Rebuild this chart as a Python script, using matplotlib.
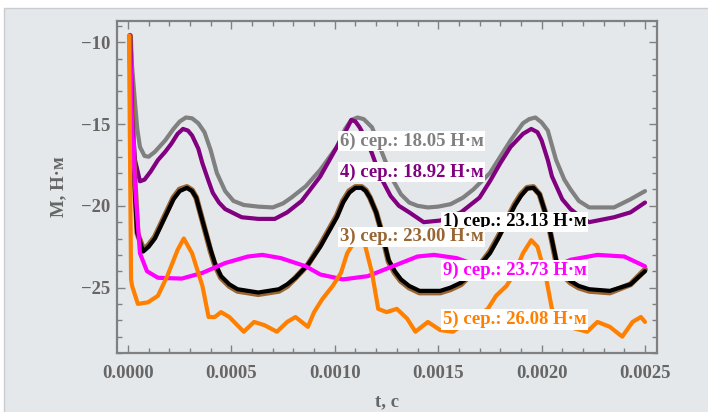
import matplotlib.pyplot as plt
from matplotlib.patches import Rectangle
from matplotlib.ticker import MultipleLocator, FuncFormatter

# --- data (t in s, M in N*m) ---
t_gray = [0.00001, 0.00002, 0.000034, 0.000045, 0.000058, 0.00008, 0.0001, 0.00013, 0.00018,
          0.00022, 0.00025, 0.00028, 0.00031, 0.00034, 0.00037, 0.0004, 0.00043, 0.00047,
          0.00051, 0.00056, 0.00063, 0.0007, 0.00075, 0.00079, 0.00086, 0.00093, 0.00101,
          0.00105, 0.00108, 0.00111, 0.00114, 0.00118, 0.00123, 0.00128, 0.00132, 0.00136,
          0.0014, 0.00145, 0.0015, 0.00156, 0.00162, 0.00167, 0.00175, 0.0018, 0.00185,
          0.00191, 0.00194, 0.00197, 0.002, 0.00203, 0.00207, 0.00211, 0.00214, 0.00218,
          0.00223, 0.00235, 0.00243, 0.0025]
m_gray = [-9.6, -11.5, -13.7, -15.3, -16.4, -16.95, -17.0, -16.7, -16.0,
          -15.3, -14.85, -14.6, -14.65, -14.95, -15.5, -16.6, -18.0, -19.1,
          -19.7, -19.95, -20.05, -20.1, -19.85, -19.5, -18.8, -17.8, -16.4,
          -15.3, -14.75, -14.6, -14.7, -15.2, -16.8, -18.4, -19.3, -19.8,
          -20.0, -20.1, -20.05, -19.9, -19.5, -19.0, -18.0, -17.0, -16.0,
          -14.95, -14.7, -14.6, -14.9, -15.4, -17.2, -18.4, -19.0, -19.7,
          -20.1, -20.1, -19.6, -19.1]

t_purple = [0.00001, 0.00002, 0.000034, 0.000058, 0.00008, 0.00011, 0.000145, 0.00018, 0.00021,
            0.00024, 0.000266, 0.00029, 0.00031, 0.00034, 0.00036, 0.00039, 0.00041, 0.00044,
            0.00047, 0.00055, 0.00063, 0.00071, 0.00077, 0.00084, 0.00093, 0.00101, 0.00105,
            0.00108, 0.0011, 0.00112, 0.00115, 0.00118, 0.00122, 0.00127, 0.00131, 0.00136,
            0.00143, 0.00151, 0.00161, 0.0017, 0.00175, 0.0018, 0.00185, 0.00191, 0.00195,
            0.00198, 0.002, 0.00203, 0.00205, 0.0021, 0.00214, 0.00219, 0.00223, 0.00235,
            0.00243, 0.0025]
m_purple = [-9.6, -14.5, -17.2, -18.5, -18.4, -17.9, -17.2, -16.7, -16.2,
            -15.6, -15.3, -15.4, -15.7, -16.5, -17.4, -18.5, -19.2, -19.8,
            -20.2, -20.7, -20.8, -20.8, -20.4, -19.7, -18.2, -16.4, -15.5,
            -14.75, -14.85, -15.2, -15.9, -16.8, -18.2, -19.4, -20.0, -20.4,
            -21.0, -20.9, -20.4, -19.5, -18.5, -17.4, -16.4, -15.6, -15.3,
            -15.5, -16.0, -17.2, -18.2, -19.6, -20.2, -20.7, -21.0, -20.7,
            -20.4, -19.8]

t_black = [0.00001, 0.000024, 0.000044, 0.000073, 0.0001, 0.00013, 0.00016, 0.00019, 0.00022,
           0.00025, 0.000285, 0.00031, 0.00033, 0.00036, 0.0004, 0.00042, 0.00045, 0.00049,
           0.00053, 0.00063, 0.00073, 0.00077, 0.00081, 0.00087, 0.00093, 0.00097, 0.00101,
           0.00104, 0.00107, 0.0011, 0.00113, 0.00115, 0.00117, 0.0012, 0.00122, 0.00126,
           0.00129, 0.00132, 0.00136, 0.00141, 0.00151, 0.00156, 0.00161, 0.00165, 0.00169,
           0.00175, 0.00179, 0.00183, 0.00187, 0.0019, 0.00193, 0.00196, 0.00199, 0.00203,
           0.00207, 0.0021, 0.00214, 0.00218, 0.00223, 0.00233, 0.00243, 0.0025]
m_black = [-9.6, -16.8, -21.6, -22.8, -22.5, -22.0, -21.2, -20.4, -19.6,
           -19.1, -18.9, -19.1, -19.5, -20.9, -22.7, -23.5, -24.3, -24.8,
           -25.1, -25.3, -25.1, -24.8, -24.4, -23.6, -22.5, -21.6, -20.7,
           -19.8, -19.2, -18.9, -18.9, -19.1, -19.5, -20.4, -21.3, -23.3,
           -24.0, -24.5, -24.9, -25.2, -25.2, -25.0, -24.7, -24.3, -23.8,
           -22.9, -22.0, -21.0, -20.0, -19.4, -18.95, -18.9, -19.3, -20.9,
           -23.3, -24.1, -24.6, -24.9, -25.1, -25.2, -24.8, -24.0]

t_brown = [0.00001, 0.000026, 0.000046, 0.000075, 0.0001, 0.00013, 0.00016, 0.00019, 0.00022,
           0.00025, 0.000285, 0.00031, 0.00033, 0.00036, 0.0004, 0.00042, 0.00045, 0.00049,
           0.00053, 0.00063, 0.00073, 0.00077, 0.00081, 0.00087, 0.00093, 0.00097, 0.00101,
           0.00104, 0.00107, 0.0011, 0.00113, 0.00115, 0.00117, 0.0012, 0.00122, 0.00126,
           0.00129, 0.00132, 0.00136, 0.00141, 0.00151, 0.00156, 0.00161, 0.00165, 0.00169,
           0.00175, 0.00179, 0.00183, 0.00187, 0.0019, 0.00193, 0.00196, 0.00199, 0.00203,
           0.00207, 0.0021, 0.00214, 0.00218, 0.00223, 0.00233, 0.00243, 0.0025]
m_brown = [-9.6, -16.9, -21.7, -22.7, -22.4, -21.9, -21.1, -20.3, -19.5,
           -19.0, -18.85, -19.05, -19.5, -20.9, -22.8, -23.6, -24.4, -24.9,
           -25.2, -25.4, -25.2, -24.9, -24.4, -23.6, -22.4, -21.5, -20.6,
           -19.7, -19.1, -18.85, -18.85, -19.05, -19.5, -20.4, -21.3, -23.4,
           -24.1, -24.6, -25.0, -25.3, -25.3, -25.1, -24.8, -24.3, -23.8,
           -22.8, -21.9, -20.9, -19.9, -19.3, -18.9, -18.85, -19.3, -20.9,
           -23.4, -24.2, -24.7, -25.0, -25.2, -25.3, -24.8, -23.9]

t_magenta = [0.00001, 0.00002, 0.000034, 0.000058, 0.000092, 0.000145, 0.00026, 0.00036,
             0.00047, 0.00058, 0.00065, 0.00074, 0.00086, 0.00093, 0.00104, 0.00116, 0.00128,
             0.0014, 0.00148, 0.00159, 0.0017, 0.0018, 0.0019, 0.002, 0.00214, 0.00227,
             0.0024, 0.0025]
m_magenta = [-9.6, -15.0, -18.8, -22.9, -24.0, -24.4, -24.45, -24.1,
             -23.5, -23.1, -23.0, -23.2, -23.7, -24.2, -24.5, -24.3, -23.7,
             -23.1, -23.0, -23.2, -23.7, -24.2, -24.4, -24.1, -23.3, -23.0,
             -23.1, -23.7]

t_orange = [0.000005, 0.000015, 0.00002, 0.000048, 0.000097, 0.000145, 0.00019, 0.00024,
            0.00027, 0.00031, 0.00036, 0.00039, 0.00042, 0.00045, 0.00049, 0.00056, 0.00061,
            0.00066, 0.00072, 0.00077, 0.00081, 0.00087, 0.0009, 0.00094, 0.00099, 0.00103,
            0.00106, 0.0011, 0.00114, 0.00118, 0.00121, 0.00125, 0.0013, 0.00135, 0.00139,
            0.00145, 0.00151, 0.00157, 0.00163, 0.00168, 0.00174, 0.00178, 0.00183, 0.00187,
            0.00191, 0.00195, 0.00198, 0.00202, 0.00205, 0.0021, 0.00216, 0.00222, 0.00227,
            0.00233, 0.00239, 0.00244, 0.00248, 0.0025]
m_orange = [-9.6, -24.5, -24.9, -26.0, -25.9, -25.5, -24.3, -22.7,
            -22.0, -22.9, -24.9, -26.8, -26.8, -26.5, -26.8, -27.7, -27.1,
            -27.3, -27.7, -27.1, -26.8, -27.4, -26.5, -25.7, -24.9, -24.1,
            -22.9, -22.1, -22.1, -24.1, -26.3, -26.5, -26.3, -26.9, -27.7,
            -27.1, -27.6, -27.7, -27.2, -26.8, -26.3, -25.5, -24.9, -24.1,
            -22.9, -22.1, -22.5, -24.3, -26.3, -27.2, -27.5, -27.7, -27.1,
            -27.4, -28.0, -27.1, -26.8, -27.1]

labels = ['6) сер.: 18.05 Н·м', '4) сер.: 18.92 Н·м', '1) сер.: 23.13 Н·м',
          '3) сер.: 23.00 Н·м', '9) сер.: 23.73 Н·м', '5) сер.: 26.08 Н·м']

c_gray = '#808080'
c_purple = '#800080'
c_black = '#000000'
c_brown = '#996633'
c_magenta = '#ff00ff'
c_orange = '#ff8000'
bg = '#e5e8eb'
tick_col = '#666666'
serif = ['Liberation Serif', 'DejaVu Serif']

fig = plt.figure(figsize=(7.08, 4.12), dpi=100, facecolor='white')
fig.patches.append(Rectangle((4 / 708, -0.01), 1.0, 1 - 8 / 412 + 0.01,
                             transform=fig.transFigure, facecolor=bg,
                             edgecolor='#c9ccd0', linewidth=1.0, zorder=-5))

ax = fig.add_axes([117 / 708, 59 / 412, 540 / 708, 332 / 412])
ax.set_facecolor(bg)
ax.set_zorder(2)

lw = 3.0
kw = dict(solid_joinstyle='round', solid_capstyle='round')
ax.plot(t_gray, m_gray, color=c_gray, lw=lw, **kw)
ax.plot(t_purple, m_purple, color=c_purple, lw=lw, **kw)
ax.plot(t_brown, m_brown, color=c_brown, lw=lw + 1.2, **kw)
ax.plot(t_black, m_black, color=c_black, lw=lw, **kw)
ax.plot(t_magenta, m_magenta, color=c_magenta, lw=lw, **kw)
ax.plot(t_orange, m_orange, color=c_orange, lw=lw, **kw)

ax.set_xlim(-0.000053, 0.002558)
ax.set_ylim(-29.0, -8.7)

ax.xaxis.set_major_locator(MultipleLocator(0.0005))
ax.xaxis.set_minor_locator(MultipleLocator(0.0001))
ax.yaxis.set_major_locator(MultipleLocator(5))
ax.yaxis.set_minor_locator(MultipleLocator(1))
ax.xaxis.set_major_formatter(FuncFormatter(lambda v, p: f'{v:.4f}'))
ax.yaxis.set_major_formatter(FuncFormatter(lambda v, p: f'\u2212{abs(v):.0f}' if v < 0 else f'{v:.0f}'))

for s in ax.spines.values():
    s.set_color(c_gray)
    s.set_linewidth(1.6)
ax.tick_params(which='both', direction='in', top=True, right=True, color=c_gray,
               labelcolor=tick_col)
ax.tick_params(which='major', length=6, width=1.0, labelsize=13.5)
ax.tick_params(which='minor', length=3.5, width=1.0)
ax.tick_params(axis='x', pad=9)
ax.tick_params(axis='y', pad=5)
for lab in ax.get_xticklabels() + ax.get_yticklabels():
    lab.set_fontfamily(serif)
    lab.set_fontweight('bold')

ax.set_xlabel('t, с', fontsize=13.5, fontfamily=serif, fontweight='bold',
              color=tick_col, labelpad=8)
ax.set_ylabel('M, Н·м', fontsize=13.5, fontfamily=serif, fontweight='bold',
              color=tick_col, labelpad=10)

# label positions (data coords of left edge / vertical centre)
lab_x = [0.001025, 0.001025, 0.001523, 0.001025, 0.001523, 0.001523]
lab_y = [-16.04, -17.95, -20.98, -21.89, -23.96, -26.95]
lab_c = [c_gray, c_purple, c_black, c_brown, c_magenta, c_orange]
for x, y, txt, c in zip(lab_x, lab_y, labels, lab_c):
    ax.text(x, y, txt, color=c, fontsize=13.5, fontfamily=serif,
            fontweight='bold', ha='left', va='center', zorder=5,
            bbox=dict(boxstyle='square,pad=0.08', facecolor='white', edgecolor='none'))

fig.savefig('out.png', dpi=100, facecolor='white')
